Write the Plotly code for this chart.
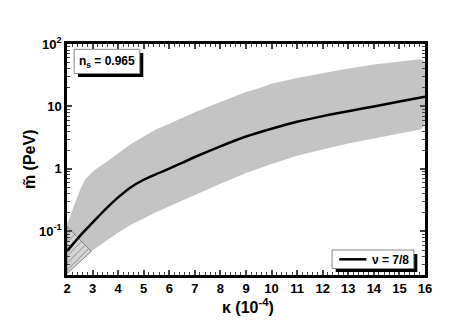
import math
import plotly.graph_objects as go

# ---- data ----
kappa_curve = [2.0, 2.5, 3.0, 3.5, 4.0, 4.5, 5.0, 5.5, 6.0, 6.5, 7.0, 8.0, 9.0, 10.0, 11.0, 12.0, 13.0, 14.0, 15.0, 16.0]
m_curve = [0.048, 0.084, 0.138, 0.225, 0.35, 0.51, 0.67, 0.83, 1.01, 1.25, 1.55, 2.3, 3.3, 4.4, 5.7, 7.0, 8.4, 10.0, 12.0, 14.3]

kappa_upper = [2.0, 2.27, 2.53, 2.72, 3.05, 3.5, 4.0, 4.5, 5.0, 5.5, 6.0, 6.5, 7.0, 7.5, 8.0, 8.5, 9.0, 9.5, 10.0, 11.0, 12.0, 13.0, 14.0, 15.0, 15.5, 15.8, 15.95, 16.0]
m_upper = [0.13, 0.26, 0.48, 0.69, 0.94, 1.25, 1.75, 2.5, 3.3, 4.3, 5.3, 6.6, 8.1, 9.8, 11.8, 14.0, 17.0, 19.5, 23.0, 28.5, 34.0, 40.5, 47.0, 53.0, 56.0, 57.0, 54.0, 48.0]

kappa_lower = [2.0, 2.5, 2.95, 3.5, 4.0, 4.5, 5.0, 5.5, 6.0, 6.5, 7.0, 8.0, 9.0, 10.0, 11.0, 12.0, 13.0, 14.0, 15.0, 15.6, 15.85, 15.97, 16.0]
m_lower = [0.021, 0.033, 0.048, 0.07, 0.096, 0.127, 0.16, 0.205, 0.25, 0.31, 0.38, 0.58, 0.86, 1.2, 1.62, 2.05, 2.55, 3.1, 3.7, 4.1, 4.35, 5.0, 6.0]

kappa_hatch = [2.0, 2.95, 2.0]
m_hatch = [0.12, 0.048, 0.021]

x_ticks = list(range(2, 17))
y_ticks = [0.1, 1, 10, 100]
y_ticktext = ["10<sup>-1</sup>", "1", "10", "10<sup>2</sup>"]
series_name = "\u03bd = 7/8"
label_ns = "n<sub>s</sub> = 0.965"

# ---- layout geometry (page pixels); page body has an 8px margin ----
OFF = 8
W, H = 471 - OFF, 327 - OFF
L, R, T, B = 66.5, 425.5, 44, 275


def px(x):
    return (x - L) / (R - L)


def py(y):
    return (B - y) / (B - T)


FONT = "Liberation Sans"

fig = go.Figure()

# band
fig.add_trace(go.Scatter(
    x=kappa_upper + kappa_lower[::-1],
    y=m_upper + m_lower[::-1],
    fill="toself", fillcolor="#c4c4c4", line=dict(width=0),
    mode="lines", hoverinfo="skip", showlegend=False))

# hatched triangle
fig.add_trace(go.Scatter(
    x=kappa_hatch + [kappa_hatch[0]], y=m_hatch + [m_hatch[0]],
    fill="toself", fillcolor="#cfcfcf",
    fillpattern=dict(shape="/", fgcolor="#7a7a7a", bgcolor="#d4d4d4", size=5, solidity=0.15, fillmode="replace"),
    line=dict(color="#707070", width=0.8),
    mode="lines", hoverinfo="skip", showlegend=False))

# curve
fig.add_trace(go.Scatter(
    x=kappa_curve, y=m_curve, mode="lines", name=series_name,
    line=dict(color="black", width=2.5, shape="spline", smoothing=0.8),
    showlegend=False))

ylo = math.log10(0.02)

tickfont = dict(family=FONT, size=13, color="black", weight="bold")

fig.update_layout(
    width=W, height=H,
    margin=dict(l=L - OFF, r=471 - R, t=T - OFF, b=327 - B),
    paper_bgcolor="white", plot_bgcolor="white",
    showlegend=False,
    xaxis=dict(
        range=[2, 16], tickvals=x_ticks, ticks="inside", ticklen=5, tickwidth=1.5,
        showline=True, linewidth=2.5, linecolor="black", mirror="allticks",
        showgrid=False, zeroline=False, tickfont=tickfont,
        minor=dict(ticks="inside", ticklen=3, tickwidth=1, dtick=0.2, tick0=2, showgrid=False),
    ),
    yaxis=dict(
        type="log", range=[ylo, 2], tickvals=y_ticks, ticktext=y_ticktext,
        ticks="inside", ticklen=5, tickwidth=1.5,
        showline=True, linewidth=2.5, linecolor="black", mirror="allticks",
        showgrid=False, zeroline=False, tickfont=tickfont,
        minor=dict(ticks="inside", ticklen=3, tickwidth=1, showgrid=False,
                   tickvals=[m * 10 ** e for e in range(-2, 2) for m in range(2, 10)]),
    ),
)

shapes = []
# n_s box: shadow + box
shapes.append(dict(type="rect", xref="paper", yref="paper",
                   x0=px(77.5), x1=px(143), y0=py(77), y1=py(53),
                   fillcolor="black", line=dict(width=0), layer="above"))
shapes.append(dict(type="rect", xref="paper", yref="paper",
                   x0=px(73.7), x1=px(139.5), y0=py(73.5), y1=py(49.3),
                   fillcolor="white", line=dict(color="#888888", width=1), layer="above"))
# legend box: shadow + box
shapes.append(dict(type="rect", xref="paper", yref="paper",
                   x0=px(336), x1=px(417.8), y0=py(272), y1=py(254),
                   fillcolor="black", line=dict(width=0), layer="above"))
shapes.append(dict(type="rect", xref="paper", yref="paper",
                   x0=px(332.3), x1=px(414.3), y0=py(268.5), y1=py(250),
                   fillcolor="white", line=dict(color="#888888", width=1), layer="above"))
shapes.append(dict(type="line", xref="paper", yref="paper",
                   x0=px(339.5), x1=px(366.7), y0=py(259.3), y1=py(259.3),
                   line=dict(color="black", width=2.5), layer="above"))
fig.update_layout(shapes=shapes)

fig.add_annotation(x=px(106.6), y=py(61.5), xref="paper", yref="paper",
                   text=label_ns, showarrow=False, xanchor="center", yanchor="middle",
                   font=dict(family=FONT, size=12, color="black", weight="bold"))
fig.add_annotation(x=px(370), y=py(259.5), xref="paper", yref="paper",
                   text=series_name, showarrow=False, xanchor="left", yanchor="middle",
                   font=dict(family=FONT, size=12, color="black", weight="bold"))
# axis titles
fig.add_annotation(x=px(248), y=py(306), xref="paper", yref="paper",
                   text="\u03ba (10<sup>-4</sup>)", showarrow=False, xanchor="center", yanchor="middle",
                   font=dict(family=FONT, size=16, color="black", weight="bold"))
fig.add_annotation(x=px(29), y=0.5, xref="paper", yref="paper",
                   text="m\u0303 (PeV)", showarrow=False, textangle=-90, xanchor="center", yanchor="middle",
                   font=dict(family=FONT, size=16, color="black", weight="bold"))

fig.write_html("out.html")
